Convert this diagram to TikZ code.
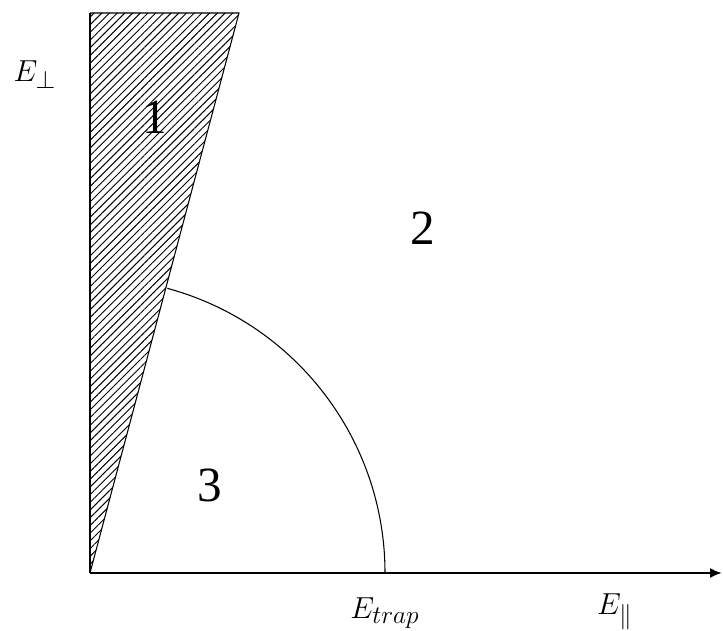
\documentclass[tikz,border=0pt]{standalone}
\usepackage{amsmath, amssymb}
\usepackage{fontspec}
\setmainfont{Liberation Serif}
\usepackage{tikz}
\usetikzlibrary{arrows.meta, patterns.meta}

\tikzset{
  region/.style={font=\fontsize{28}{30}\selectfont},
  axislabel/.style={font=\fontsize{19}{22}\selectfont}
}

\begin{document}
\begin{tikzpicture}[>={Latex[length=0.24cm,width=0.2cm]}]
  \useasboundingbox (-1.8,-1.16) rectangle (12.66,11.46);
  % hatched wedge
  \fill[pattern={Lines[angle=45, distance=3.1pt, line width=0.55pt]}]
    (0,0) -- (0,11.2) -- (2.98,11.2) -- cycle;
  \draw[line width=0.6pt] (0,0) -- (2.98,11.2) -- (0,11.2);
  % axes
  \draw[->, line width=1.1pt] (0,0) -- (12.64,0);
  \draw[line width=0.8pt] (0,0) -- (0,11.2);
  \draw[line width=1.6pt] (0,0) -- (0,3.8);
  % trapping boundary
  \draw[line width=0.6pt] (5.9,0) arc[start angle=0, end angle=74.8, radius=5.9];
  % labels
  \node[axislabel] (ePerp) at (-1.1,9.96) {$E_{\perp}$};
  \node[axislabel] (eTrap) at (5.9,-0.8) {$E_{trap}$};
  \node[axislabel] (ePar) at (10.5,-0.78) {$E_{\parallel}$};
  \node[region] (one) at (1.3,9.12) {1};
  \node[region] (two) at (6.66,6.9) {2};
  \node[region] (three) at (2.4,1.76) {3};
\end{tikzpicture}
\end{document}
